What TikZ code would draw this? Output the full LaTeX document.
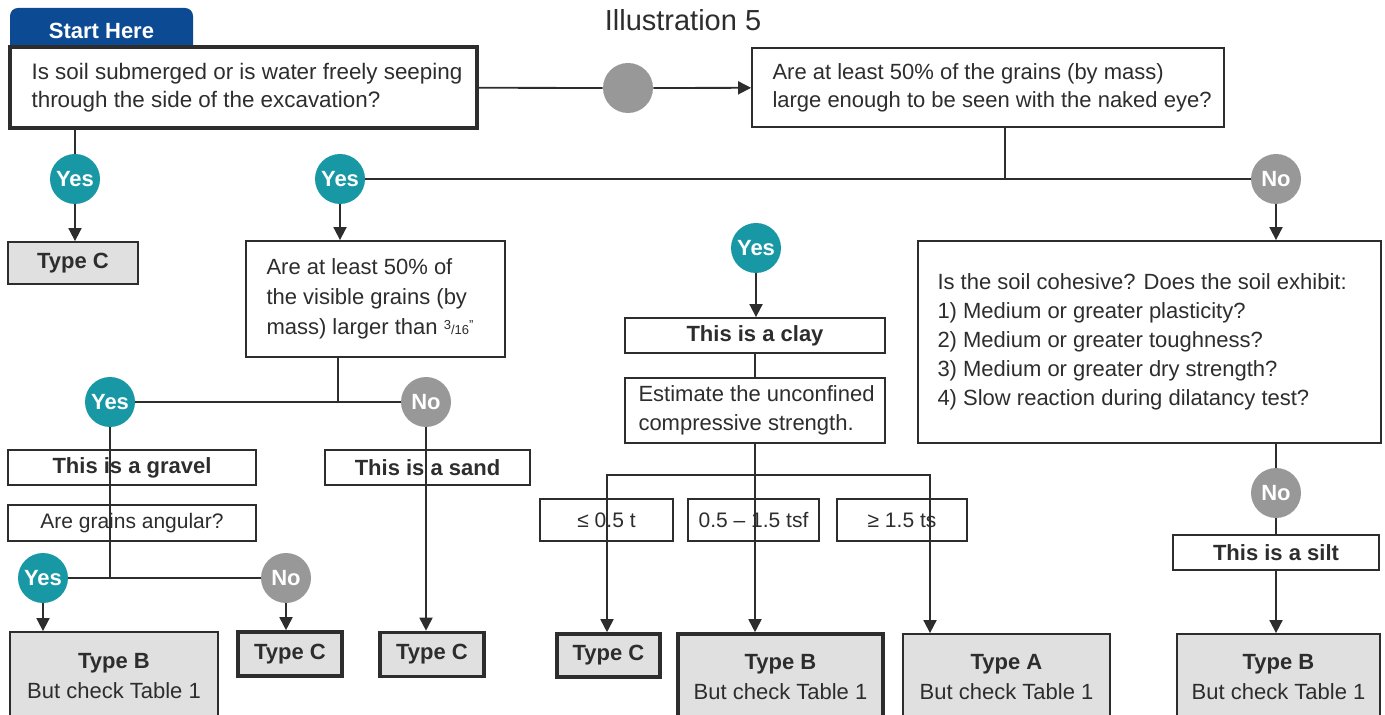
\documentclass[tikz,border=0pt]{standalone}
\usepackage{fontspec}
\setmainfont{Liberation Sans}
\usetikzlibrary{arrows.meta}
\definecolor{tealc}{RGB}{24,152,165}
\definecolor{grayc}{RGB}{152,152,152}
\definecolor{boxfill}{RGB}{224,224,224}
\definecolor{tabblue}{RGB}{12,74,148}
\definecolor{ink}{RGB}{45,45,45}

\begin{document}
\begin{tikzpicture}[x=0.5pt, y=-0.5pt,
        every node/.style = {font=\fontsize{11}{14.5}\selectfont, text=ink},
        Q/.style = {draw=ink, fill=white, line width=0.9pt, inner sep=0pt},
        txt/.style = {anchor=west, align=left, inner sep=0pt},
        L/.style = {draw=ink, fill=white, line width=0.9pt, inner sep=0pt, minimum height=17.5pt, font=\fontsize{11}{13}\selectfont\bfseries},
        R/.style = {L, minimum height=21pt, font=\fontsize{10.5}{12}\selectfont},
        T/.style = {draw=ink, fill=boxfill, line width=0.9pt, inner sep=0pt, align=center, font=\fontsize{11}{15}\selectfont\bfseries},
        TT/.style = {T, line width=1.8pt},
        Y/.style = {circle, fill=tealc, minimum size=25pt, inner sep=0pt, text=white, font=\fontsize{11}{13}\selectfont\bfseries},
        N/.style = {Y, fill=grayc},
        line/.style = {draw=ink, line width=0.9pt},
        arrow/.style = {line, -{Triangle[length=6.5pt, width=6.5pt]}}
    ]
        \useasboundingbox (0,0) rectangle (1385,715);
        \node[font=\fontsize{14.5}{17}\selectfont] (title) at (683,20) {Illustration 5};
        % first question
        \node[fill=tabblue, rounded corners=4pt, minimum width=91.5pt, minimum height=23.5pt, text=white, font=\fontsize{11}{13}\selectfont\bfseries] (start) at (101.5,31.5) {\raisebox{1pt}{Start Here}};
        \node[Q, line width=1.8pt, minimum width=233.5pt, minimum height=40.5pt] (Q1) at (243.5,87.5) {};
        \node[txt, font=\fontsize{11.2}{14}\selectfont] at ([xshift=11.5pt]Q1.west) {Is soil submerged or is water freely seeping\\through the side of the excavation?};
        \node[N] (G) at (628,88) {};
        \node[Q, minimum width=236pt, minimum height=39.5pt] (Q2) at (988,87.5) {};
        \node[txt, font=\fontsize{11}{14}\selectfont] at ([xshift=10.5pt]Q2.west) {Are at least 50\% of the grains (by mass)\\large enough to be seen with the naked eye?};
        \node[Y] (Y1) at (75,179) {Yes};
        \node[T, minimum width=65pt, minimum height=21pt] (C1) at (73,263) {Type C};
        \node[Y] (Y2) at (340,179) {Yes};
        \node[N] (N1) at (1276,179) {No};
        \coordinate (J1) at (1005,179);
        % coarse grains
        \node[Q, minimum width=129.5pt, minimum height=58pt] (Q3) at (375.5,299) {};
        \node[txt, font=\fontsize{11}{15}\selectfont] at ([xshift=10.5pt]Q3.west) {Are at least 50\% of\\the visible grains (by\\mass) larger than {\fontsize{6.5}{8}\selectfont\raisebox{2.5pt}{3}/16\raisebox{2.5pt}{"}}};
        \coordinate (J2) at (338,402);
        \node[Y] (Y3) at (110,402) {Yes};
        \node[N] (N3) at (426,402) {No};
        \node[L, minimum width=124pt] (gravel) at (132,467.5) {This is a gravel};
        \node[R, minimum width=124pt, minimum height=18pt] (ang) at (132,523) {Are grains angular?};
        \node[L, minimum width=102.5pt] (sand) at (427.5,467.5) {This is a sand};
        \coordinate (J3) at (110,578);
        \node[Y] (Y4) at (43,578) {Yes};
        \node[N] (N4) at (286,578) {No};
        \node[T, minimum width=104pt, minimum height=44pt] (B1) at (114,676) {Type B\\{\mdseries But check Table 1}};
        \node[TT, minimum width=52pt, minimum height=22pt] (C2) at (290,654) {Type C};
        \node[TT, minimum width=52pt, minimum height=22pt] (C3) at (432,654.5) {Type C};
        % clay
        \node[Y] (Y5) at (756,248) {Yes};
        \node[L, minimum width=130pt] (clay) at (755,335.5) {This is a clay};
        \node[Q, minimum width=130pt, minimum height=32.5pt] (est) at (755,410.5) {};
        \node[txt] at ([xshift=7pt]est.west) {Estimate the unconfined\\compressive strength.};
        \coordinate (J4) at (755,475);
        \coordinate (La) at (607,475);
        \coordinate (Lc) at (930,475);
        \node[R, minimum width=66.5pt] (R1) at (606.5,520) {≤ 0.5 t};
        \node[R, minimum width=65.5pt] (R2) at (753.5,520) {0.5 – 1.5 tsf};
        \node[R, minimum width=65pt] (R3) at (902,520) {≥ 1.5 ts};
        \node[TT, minimum width=51.5pt, minimum height=21.5pt] (C4) at (608.5,655.5) {Type C};
        \node[TT, minimum width=102.5pt, minimum height=43pt] (B2) at (780.5,677) {Type B\\{\mdseries But check Table 1}};
        \node[T, minimum width=103.5pt, minimum height=43pt] (A1) at (1006.5,677) {Type A\\{\mdseries But check Table 1}};
        % fine grains
        \node[Q, minimum width=231.5pt, minimum height=101pt] (Q4) at (1149.5,342) {};
        \node[txt] at ([xshift=10pt]Q4.west) {Is the soil cohesive? Does the soil exhibit:\\1) Medium or greater plasticity?\\2) Medium or greater toughness?\\3) Medium or greater dry strength?\\4) Slow reaction during dilatancy test?};
        \node[N] (N5) at (1276,493) {No};
        \node[L, minimum width=103pt] (silt) at (1276,552.5) {This is a silt};
        \node[T, minimum width=101.5pt, minimum height=43pt] (B3) at (1278.5,677) {Type B\\{\mdseries But check Table 1}};
        % connectors
        \draw[line] (Q1) -- (G);
        \draw[arrow] (G) -- (Q2);
        \draw[line] (Y1 |- Q1.south) -- (Y1);
        \draw[arrow] (Y1) -- (Y1 |- C1.north);
        \draw[line] (J1 |- Q2.south) -- (J1);
        \draw[line] (Y2) -- (N1);
        \draw[arrow] (Y2) -- (Y2 |- Q3.north);
        \draw[arrow] (N1) -- (N1 |- Q4.north);
        \draw[line] (J2 |- Q3.south) -- (J2);
        \draw[line] (Y3) -- (N3);
        \draw[line] (Y3) -- (J3);
        \draw[line] (Y4) -- (N4);
        \draw[arrow] (Y4) -- (Y4 |- B1.north);
        \draw[arrow] (N4) -- (N4 |- C2.north);
        \draw[arrow] (N3) -- (N3 |- C3.north);
        \draw[arrow] (Y5) -- (Y5 |- clay.north);
        \draw[line] (clay) -- (est);
        \draw[arrow] (est) -- (est |- B2.north);
        \draw[arrow] (J4) -- (La) -- (La |- C4.north);
        \draw[arrow] (J4) -- (Lc) -- (Lc |- A1.north);
        \draw[line] (N5 |- Q4.south) -- (N5);
        \draw[line] (N5) -- (silt);
        \draw[arrow] (silt) -- (silt |- B3.north);
    \end{tikzpicture}
\end{document}
